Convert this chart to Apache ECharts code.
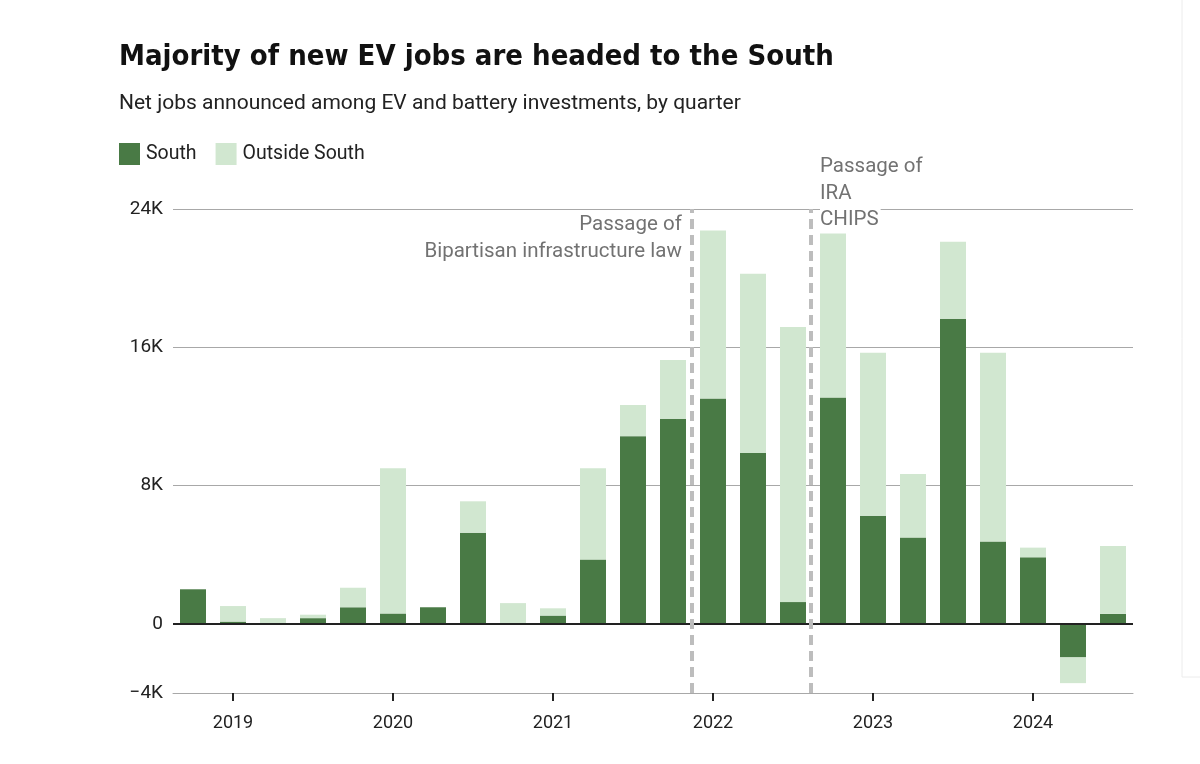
<!DOCTYPE html>
<html>
<head>
<meta charset="utf-8">
<script src="https://cdn.jsdelivr.net/npm/echarts@6/dist/echarts.min.js"></script>
<style>
  html, body { margin: 0; padding: 0; background: #fff; }
  #main { width: 1200px; height: 764px; }
</style>
</head>
<body>
<div id="main"></div>
<script>
// quarters, first bar is 2018 Q4
var quarters = [
  '2018 Q4',
  '2019 Q1', '2019 Q2', '2019 Q3', '2019 Q4',
  '2020 Q1', '2020 Q2', '2020 Q3', '2020 Q4',
  '2021 Q1', '2021 Q2', '2021 Q3', '2021 Q4',
  '2022 Q1', '2022 Q2', '2022 Q3', '2022 Q4',
  '2023 Q1', '2023 Q2', '2023 Q3', '2023 Q4',
  '2024 Q1', '2024 Q2', '2024 Q3'
];
var south = [
  2000, 130, 0, 330, 960, 600, 960, 5270, 0, 480, 3730, 10860,
  11860, 13040, 9890, 1260, 13100, 6250, 4990, 17650, 4760, 3850, -1940, 580
];
var outsideSouth = [
  0, 900, 330, 200, 1130, 8400, 0, 1820, 1200, 420, 5270, 1800,
  3410, 9720, 10370, 15910, 10200, 9430, 3680, 4450, 10920, 560, -1490, 3930
];
var yTicks = [-4000, 0, 8000, 16000, 24000];
// event lines, in quarter units on the hidden value axis
var events = [
  { x: 12.97, lines: ['Passage of', 'Bipartisan infrastructure law'], side: 'left' },
  { x: 15.95, lines: ['Passage of', 'IRA', 'CHIPS'], side: 'right' }
];

var DARK = '#497a45';
var LIGHT = '#d1e7d0';
var FONT = 'Roboto, "Noto Sans", sans-serif';
var TITLE_FONT = '"DejaVu Sans Condensed", "Liberation Sans Narrow", sans-serif';

var chart = echarts.init(document.getElementById('main'));

function fmtK(v) {
  if (v === 0) return '0';
  var s = Math.abs(v / 1000) + 'K';
  return v < 0 ? '\u2212' + s : s;
}

// split line colours, one per 4K step from -4K to 24K
var splitColors = [];
for (var v = -4000; v <= 24000; v += 4000) {
  splitColors.push(yTicks.indexOf(v) >= 0 && v !== 0 ? '#a8a8a8' : 'rgba(0,0,0,0)');
}

chart.setOption({
  backgroundColor: '#fff',
  animation: false,
  title: [
    {
      text: 'Majority of new EV jobs are headed to the South',
      left: 114, top: 38,
      textStyle: { fontFamily: TITLE_FONT, fontWeight: 'bold', fontSize: 29, color: '#111' }
    },
    {
      text: 'Net jobs announced among EV and battery investments, by quarter',
      left: 114, top: 88,
      textStyle: { fontFamily: FONT, fontWeight: 'normal', fontSize: 21, color: '#222' }
    }
  ],
  legend: {
    left: 114, top: 138,
    icon: 'rect',
    itemWidth: 21, itemHeight: 22, itemGap: 19,
    selectedMode: false,
    textStyle: { fontFamily: FONT, fontSize: 19.5, color: '#222', padding: [0, 0, 0, 1] },
    data: ['South', 'Outside South']
  },
  grid: { left: 173, right: 67, top: 209, bottom: 71, containLabel: false },
  xAxis: [
    {
      type: 'category',
      data: quarters,
      boundaryGap: true,
      axisLine: { show: true, onZero: false, lineStyle: { color: '#a8a8a8', width: 1 } },
      axisTick: {
        show: true, alignWithLabel: true, length: 8,
        interval: function (i, q) { return q.indexOf('Q1') > 0; },
        lineStyle: { color: '#222', width: 2 }
      },
      axisLabel: {
        interval: function (i, q) { return q.indexOf('Q1') > 0; },
        formatter: function (q) { return q.slice(0, 4); },
        fontFamily: FONT, fontSize: 18, color: '#222', margin: 21
      },
      splitLine: { show: false }
    },
    { type: 'value', min: 0, max: quarters.length, show: false }
  ],
  yAxis: {
    type: 'value',
    min: -4000, max: 24000, interval: 4000,
    axisLine: { show: false },
    axisTick: { show: false },
    axisLabel: {
      fontFamily: FONT, fontSize: 19, color: '#222', margin: 10,
      formatter: function (v) { return yTicks.indexOf(v) >= 0 ? fmtK(v) : ''; }
    },
    splitLine: { show: true, lineStyle: { color: splitColors, width: 1 } }
  },
  series: [
    {
      name: 'South', type: 'bar', stack: 'jobs',
      data: south, barWidth: '65%',
      itemStyle: { color: DARK },
      markLine: {
        silent: true, symbol: 'none', label: { show: false },
        lineStyle: { color: '#222', width: 2, type: 'solid' },
        data: [{ yAxis: 0 }]
      }
    },
    {
      name: 'Outside South', type: 'bar', stack: 'jobs',
      data: outsideSouth, barWidth: '65%',
      itemStyle: { color: LIGHT }
    },
    {
      name: 'events', type: 'line', xAxisIndex: 1, yAxisIndex: 0,
      data: [], symbol: 'none', silent: true,
      markLine: {
        silent: true, symbol: 'none', label: { show: false },
        lineStyle: { color: '#bdbdbd', width: 4, type: [10, 6] },
        data: events.map(function (e) { return { xAxis: e.x }; })
      }
    }
  ]
});

// annotations placed next to the event lines, one text per line
var top24 = chart.convertToPixel({ yAxisIndex: 0 }, 24000);
var LH = 26.5;
var graphics = [];
events.forEach(function (e) {
  var px = chart.convertToPixel({ xAxisIndex: 1 }, e.x);
  var left = e.side === 'left';
  var y0 = left ? top24 + 3 : top24 - 55;
  e.lines.forEach(function (line, i) {
    graphics.push({
      type: 'text', z: 100, silent: true,
      x: left ? px - 8 : px + 9,
      y: y0 + i * LH,
      style: {
        text: line,
        align: left ? 'right' : 'left',
        verticalAlign: 'top',
        fontFamily: FONT, fontSize: 20.5, lineHeight: LH,
        fill: '#727272',
        backgroundColor: left ? 'transparent' : '#fff',
        padding: [0, 2, 0, 0]
      }
    });
  });
});
// faint panel border at the right edge of the screenshot
graphics.push({
  type: 'polyline', z: 0, silent: true,
  shape: { points: [[1182, 0], [1182, 677], [1200, 677]] },
  style: { stroke: '#ececec', lineWidth: 1, fill: null }
});
chart.setOption({ graphic: graphics });
</script>
</body>
</html>
